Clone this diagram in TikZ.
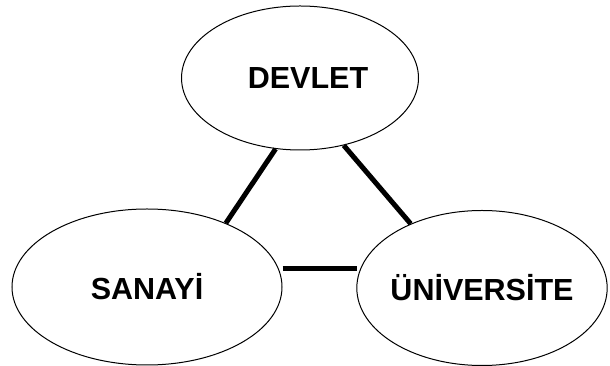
\documentclass[tikz,border=0pt]{standalone}
\usepackage{fontspec}
\setmainfont{Liberation Sans}
\usetikzlibrary{shapes.geometric}

\begin{document}
\begin{tikzpicture}[x=1pt,y=1pt,
	party/.style={ellipse, draw, line width=1pt, inner xsep=-3pt, inner ysep=0pt,
		font=\fontsize{30.5}{34}\selectfont\bfseries},
	link/.style={line width=5pt}]
		\useasboundingbox (0,0) rectangle (610,366);
		%draw the three parties
		\node[party, minimum width=237, minimum height=144] (devlet) at (300,288) {\hspace*{16pt}DEVLET};
		\node[party, minimum width=270, minimum height=156] (sanayi) at (147,79) {SANAYİ};
		\node[party, minimum width=250, minimum height=155] (univ) at (482,78) {ÜNİVERSİTE};
		%draw links
		\draw[link] (devlet.251.6) -- (sanayi.39);
		\draw[link] (devlet.303) -- (univ.138.7);
		\draw[link] ([xshift=4pt]sanayi.8) -- ([xshift=-4pt]sanayi.8 -| univ.170);
		
	\end{tikzpicture}
\end{document}
